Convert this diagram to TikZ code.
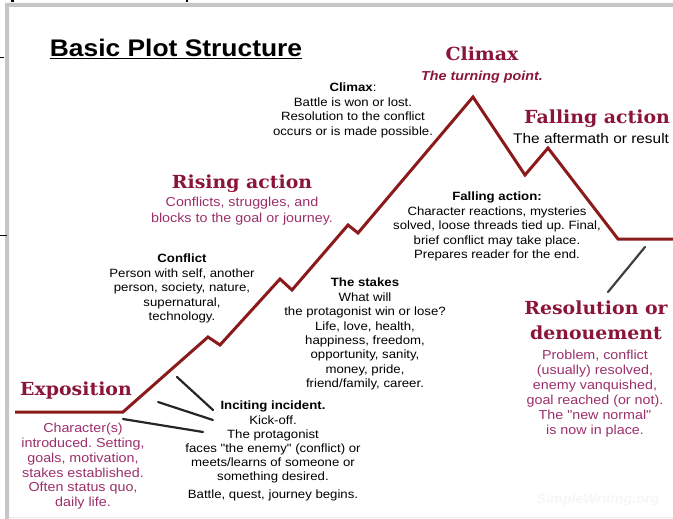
\documentclass[tikz,border=0pt]{standalone}
\usepackage{fontspec}
\setmainfont{Liberation Sans}[FakeStretch=1.1,Ligatures=TeXOff]
\newfontfamily\headfont{DejaVu Serif}[FakeStretch=1.05]
\usetikzlibrary{calc}
\definecolor{plotred}{HTML}{8B1A1A}
\definecolor{headred}{HTML}{8A1538}
\definecolor{notepink}{HTML}{9C2F6B}
\frenchspacing

\begin{document}
\begin{tikzpicture}[x=1pt,y=-1pt,
	heading/.style={font=\headfont\bfseries\fontsize{18}{25}\selectfont,text=headred,inner sep=0pt,align=center},
	note/.style={align=center,font=\fontsize{12}{14.4}\selectfont,inner sep=0pt,anchor=north},
	pinknote/.style={note,text=notepink,font=\fontsize{13}{15}\selectfont},
	pointer/.style={line width=2.2pt,black!85,line cap=round}]
	\useasboundingbox (0,0) rectangle (673,519);
	% frame of the page
	\fill[gray!45] (5,3) rectangle (9,519) (5,3) rectangle (673,7);
	\draw[gray!15] (9,517)--(673,517);
	\draw[line width=3pt] (12,0)--(12,2.5);
	\draw[line width=1.5pt] (187,0)--(187,2.5);
	\draw[line width=.8pt] (0,57)--(4,57) (0,235)--(7,235);
	\path
	(15,412) coordinate (S)
	(123,412) coordinate (E)
	(208,337) coordinate (R1) (220,345) coordinate (D1)
	(280,279) coordinate (R2) (292,290) coordinate (D2)
	(348,225) coordinate (R3) (358,233) coordinate (D3)
	(473,97) coordinate (P)
	(525,175) coordinate (F1) (548,148) coordinate (F2)
	(618,239) coordinate (L)
	(673,239) coordinate (T);
	\draw[plotred,line width=3pt,line join=miter]
	(S)--(E)--(R1)--(D1)--(R2)--(D2)--(R3)--(D3)--(P)--(F1)--(F2)--(L)--(T);
	% title
	\node[anchor=base,inner sep=0pt,font=\bfseries\fontsize{24}{28}\selectfont] (title) at (176,57) {\underline{Basic Plot Structure}};
	% headings
	\node[heading,anchor=base] (climaxhead) at (482,61) {Climax};
	\node[anchor=base,inner sep=0pt,text=headred,font=\bfseries\itshape\fontsize{13}{15}\selectfont] (turning) at (482,81) {The turning point.};
	\node[heading,anchor=base west] (fallhead) at (524,124) {Falling action};
	\node[anchor=base west,inner sep=0pt,font=\fontsize{14}{16}\selectfont] (aftermath) at (513,143) {The aftermath or result};
	\node[heading,anchor=base] (risehead) at (242,189) {Rising action};
	\node[heading,anchor=base] (exphead) at (76,395) {Exposition};
	\node[heading,anchor=north] (reshead) at (596,301) {Resolution or\\denouement};
	% notes
	\node[note] (climaxnote) at (353,83) {\textbf{Climax}:\\Battle is won or lost.\\Resolution to the conflict\\occurs or is made possible.};
	\node[pinknote,font=\fontsize{13}{16}\selectfont] (risenote) at (242,196.5) {Conflicts, struggles, and\\blocks to the goal or journey.};
	\node[note] (conflict) at (182,254) {\textbf{Conflict}\\Person with self, another\\person, society, nature,\\supernatural,\\technology.};
	\node[note] (stakes) at (365,278) {\textbf{The stakes}\\What will\\the protagonist win or lose?\\Life, love, health,\\happiness, freedom,\\opportunity, sanity,\\money, pride,\\friend/family, career.};
	\node[note] (fallnote) at (497,192) {\textbf{Falling action:}\\Character reactions, mysteries\\solved, loose threads tied up. Final,\\brief conflict may take place.\\Prepares reader for the end.};
	\node[pinknote] (resnote) at (595,349.5) {Problem, conflict\\(usually) resolved,\\enemy vanquished,\\goal reached (or not).\\The "new normal"\\is now in place.};
	\node[pinknote,font=\fontsize{13}{14.8}\selectfont] (exponote) at (83,423) {Character(s)\\introduced. Setting,\\goals, motivation,\\stakes established.\\Often status quo,\\daily life.};
	\node[note,font=\fontsize{12}{14.2}\selectfont] (incite) at (273,401) {\textbf{Inciting incident.}\\Kick-off.\\The protagonist\\faces "the enemy" (conflict) or\\meets/learns of someone or\\something desired.\\[3pt]Battle, quest, journey begins.};
	\node[anchor=base,inner sep=0pt,text=gray!7,font=\bfseries\itshape\fontsize{13}{15}\selectfont] (mark) at (598,503) {SimpleWriting.org};
	% pointers
	\path
	(645,247) coordinate (r0) (608,292) coordinate (r1)
	(177,377) coordinate (a0) (213,410) coordinate (a1)
	(158,402) coordinate (b0) (213,420) coordinate (b1)
	(123,419) coordinate (c0) (203,432) coordinate (c1);
	\draw[pointer,black!75] (r0)--(r1);
	\foreach \u/\v in {a0/a1,b0/b1,c0/c1} \draw[pointer] (\u)--(\v);
\end{tikzpicture}
\end{document}
